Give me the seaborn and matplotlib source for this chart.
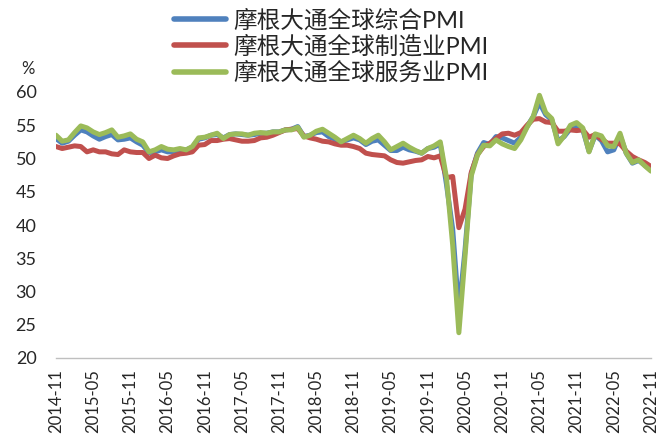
import numpy as np
import pandas as pd
import seaborn as sns
import matplotlib
matplotlib.use('Agg')
import matplotlib.pyplot as plt

# monthly, 2014-11 .. 2022-11
months = pd.period_range('2014-11', '2022-11', freq='M').strftime('%Y-%m').tolist()

composite = [53.0, 52.3, 52.6, 53.5, 54.3, 54.0, 53.4, 52.9, 53.3, 53.6,
             52.8, 52.9, 53.1, 52.5, 52.0, 50.9, 51.0, 51.3, 51.0, 51.0,
             51.3, 51.3, 51.7, 52.9, 53.1, 53.5, 53.6, 53.1, 53.6, 53.7,
             53.6, 53.5, 53.6, 53.8, 53.8, 54.0, 54.0, 54.3, 54.4, 54.8,
             53.3, 53.5, 53.9, 54.0, 53.3, 52.9, 52.5, 52.8, 53.1, 52.8,
             52.1, 52.6, 52.8, 52.0, 51.2, 51.2, 51.7, 51.3, 51.1, 50.8,
             51.5, 51.7, 52.2, 46.1, 39.4, 27.0, 36.3, 47.7, 50.8, 52.4,
             52.1, 53.3, 53.1, 52.7, 52.3, 53.2, 54.8, 56.3, 58.4, 56.6,
             55.8, 52.6, 53.3, 54.5, 54.8, 54.3, 51.1, 53.5, 52.7, 51.0,
             51.3, 53.5, 50.8, 49.3, 49.7, 49.0, 48.2]

manufacturing = [51.8, 51.5, 51.7, 51.9, 51.8, 51.0, 51.3, 51.0, 51.0, 50.7,
                 50.6, 51.3, 51.0, 50.9, 50.9, 50.0, 50.5, 50.1, 50.0, 50.4,
                 50.7, 50.8, 51.0, 52.0, 52.1, 52.7, 52.7, 52.9, 53.0, 52.8,
                 52.6, 52.6, 52.7, 53.1, 53.2, 53.5, 53.9, 54.3, 54.4, 54.5,
                 53.4, 53.1, 52.9, 52.6, 52.5, 52.2, 52.0, 52.0, 51.8, 51.5,
                 50.8, 50.6, 50.5, 50.4, 49.8, 49.4, 49.3, 49.5, 49.7, 49.8,
                 50.3, 50.1, 50.4, 47.1, 47.3, 39.6, 42.4, 47.9, 50.6, 51.8,
                 52.3, 53.0, 53.7, 53.8, 53.5, 53.9, 55.0, 55.9, 56.0, 55.5,
                 55.4, 54.1, 54.1, 54.3, 54.2, 54.3, 53.2, 53.6, 52.9, 52.3,
                 52.3, 52.2, 51.1, 50.3, 49.8, 49.4, 48.8]

services = [53.5, 52.6, 52.8, 53.9, 54.9, 54.6, 54.0, 53.6, 53.9, 54.3,
            53.2, 53.4, 53.7, 52.9, 52.5, 51.0, 51.3, 51.8, 51.4, 51.3,
            51.5, 51.3, 51.8, 53.1, 53.2, 53.5, 53.8, 53.0, 53.6, 53.7,
            53.7, 53.5, 53.8, 53.9, 53.8, 54.0, 54.0, 54.3, 54.3, 54.7,
            53.2, 53.5, 54.1, 54.4, 53.8, 53.2, 52.5, 53.0, 53.5, 53.0,
            52.3, 53.0, 53.5, 52.5, 51.3, 51.8, 52.3, 51.7, 51.2, 50.8,
            51.5, 51.9, 52.5, 47.1, 37.0, 23.8, 35.4, 47.4, 50.5, 52.0,
            51.9, 52.8, 52.2, 51.8, 51.5, 52.8, 54.7, 56.3, 59.5, 56.9,
            56.0, 52.2, 53.4, 55.0, 55.4, 54.6, 51.0, 53.7, 53.4, 51.9,
            51.8, 53.8, 50.8, 49.4, 49.8, 48.9, 48.1]

names = ['摩根大通全球综合PMI', '摩根大通全球制造业PMI', '摩根大通全球服务业PMI']
colors = ['#4F81BD', '#C0504D', '#9BBB59']

df = pd.DataFrame({'i': np.arange(len(months)),
                   names[0]: composite, names[1]: manufacturing, names[2]: services})
long_df = df.melt(id_vars='i', var_name='series', value_name='val')

sns.set_style('white')
plt.rcParams['font.family'] = ['Lato', 'Noto Sans CJK SC', 'DejaVu Sans']

fig = plt.figure(figsize=(6.59, 4.45), dpi=100)
ax = fig.add_axes([56/659, 1-358/445, (651-56)/659, (358-92)/445])

sns.lineplot(data=long_df, x='i', y='val', hue='series', hue_order=names,
             palette=colors, linewidth=3.6, ax=ax)

ax.set_xlim(0, len(months)-1)
ax.set_ylim(20, 60)
ax.set_yticks(range(20, 61, 5))
ax.set_xticks(range(0, len(months), 6))
ax.set_xticklabels(months[::6], rotation=90)
ax.set_xlabel('')
ax.set_ylabel('')
for s in ['left', 'top', 'right']:
    ax.spines[s].set_visible(False)
ax.spines['bottom'].set_color('#BFBFBF')
ax.spines['bottom'].set_linewidth(1)
ax.tick_params(axis='x', length=5, color='#BFBFBF', width=1, pad=3, labelsize=12)
ax.tick_params(axis='y', length=0, pad=14, labelsize=13)

handles, labels = ax.get_legend_handles_labels()
ax.get_legend().remove()
for h in handles:
    h.set_linewidth(4)
fig.legend(handles, labels, loc='upper left', bbox_to_anchor=(160/659, 1.012),
           frameon=False, fontsize=17, handlelength=2.2, handletextpad=0.3,
           labelspacing=0.17, borderpad=0.1)

fig.text(28/659, 1-69/445, '%', fontsize=12, ha='center', va='center')

fig.savefig('out.png', dpi=100)
